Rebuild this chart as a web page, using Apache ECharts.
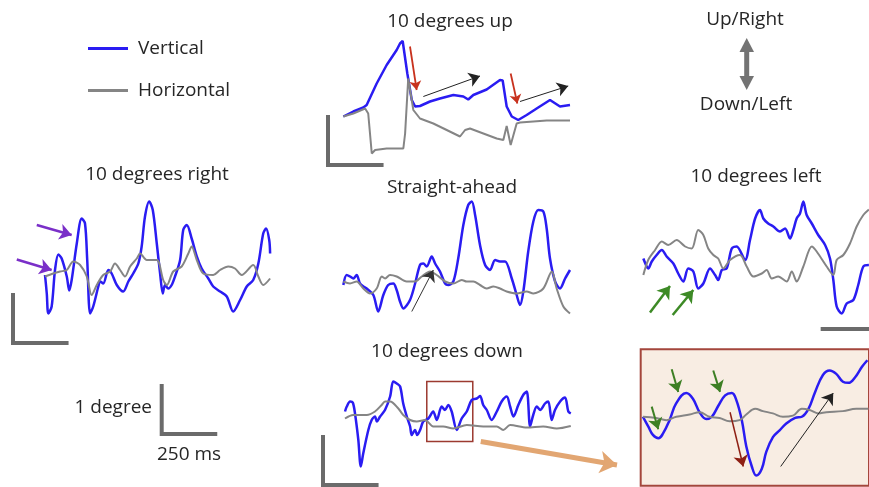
<!DOCTYPE html>
<html><head><meta charset="utf-8">
<script src="https://cdn.jsdelivr.net/npm/echarts@6/dist/echarts.min.js"></script>
<style>html,body{margin:0;padding:0;background:#fff}#c{width:869px;height:487px}</style>
</head><body><div id="c"></div>
<script>
// ---- data: time in ms, eye position in degrees ----
// 10 degrees up
const upTimeV = [69,114,159,174,219,264,309,324,336,357,377,392,414,459,504,564,609,631,654,714,774,786,804,827,856,894,939,999,1044,1089];
const upV = [0.97,1.07,1.15,1.2,1.63,2.0,2.3,2.43,2.48,1.83,1.3,1.17,1.18,1.27,1.33,1.4,1.37,1.31,1.4,1.51,1.7,1.69,1.17,0.97,0.9,1.0,1.13,1.3,1.17,1.2];
const upTimeH = [69,114,167,181,197,212,264,339,347,361,369,384,414,474,534,594,617,639,699,759,789,804,822,849,864,984,1089];
const upH = [0.97,1.03,1.13,1.03,0.23,0.3,0.33,0.33,0.63,1.73,1.7,1.1,0.93,0.83,0.7,0.57,0.7,0.73,0.63,0.53,0.5,0.78,0.4,0.83,0.85,0.89,0.89];
// 10 degrees right
const rightTimeV = [144,152,159,174,189,204,219,242,253,264,287,309,324,334,347,361,384,392,406,429,444,467,496,519,541,564,579,594,613,629,647,662,674,684,699,714,729,752,766,782,804,827,849,879,901,932,962,991,1022,1052,1081,1104,1126,1139,1153,1157];
const rightV = [1.36,0.99,0.59,0.73,1.46,1.77,1.69,1.33,1.05,1.26,1.99,2.49,2.39,1.66,0.59,0.73,1.13,1.23,1.19,1.46,1.39,1.16,1.03,1.23,1.39,1.59,1.93,2.53,2.83,2.66,1.99,1.39,0.99,1.16,1.09,1.16,1.33,1.66,2.26,2.36,2.09,1.73,1.49,1.29,1.13,1.03,0.93,0.63,0.86,1.13,1.26,1.59,2.19,2.29,2.06,1.79];
const rightTimeH = [144,181,212,242,271,302,332,354,377,406,437,459,482,504,527,557,572,602,647,676,692,721,759,789,804,827,856,901,932,969,999,1029,1081,1104,1126,1157];
const rightH = [1.33,1.39,1.43,1.46,1.63,1.56,1.33,0.96,1.16,1.36,1.43,1.59,1.46,1.33,1.53,1.69,1.79,1.66,1.66,1.26,1.16,1.43,1.53,1.79,1.93,1.66,1.39,1.36,1.46,1.53,1.49,1.36,1.56,1.33,1.16,1.29];
// Straight-ahead
const straightTimeV = [15,30,45,60,75,90,105,120,150,172,195,217,240,255,270,285,315,338,360,375,390,413,428,450,473,487,510,532,555,577,593,608,630,653,675,698,720,743,773,795,810,825,847,870,892,915,930,945,968,990,1013,1035];
const straightV = [0.7,0.9,0.87,0.83,0.9,0.73,0.67,0.63,0.5,0.17,0.5,0.7,0.73,0.6,0.37,0.23,0.4,0.73,1.1,1.13,1.07,1.27,1.13,0.97,0.73,0.7,0.77,1.23,1.9,2.3,2.37,2.1,1.5,1.1,1.0,1.2,1.17,1.17,0.83,0.5,0.3,0.57,1.37,1.97,2.2,2.17,1.83,1.23,0.77,0.63,0.83,1.0];
const straightTimeH = [15,45,75,105,135,165,188,203,225,255,300,338,368,405,435,473,510,548,570,600,630,660,690,720,750,795,840,870,915,953,975,1005,1035];
const straightH = [0.77,0.73,0.77,0.63,0.53,0.63,0.87,0.83,0.9,0.87,0.77,0.77,0.87,0.97,0.9,0.77,0.73,0.8,0.77,0.77,0.7,0.63,0.67,0.63,0.57,0.53,0.57,0.53,0.63,0.97,0.63,0.27,0.13];
// 10 degrees left
const leftTimeV = [15,30,37,53,75,98,120,150,172,195,217,240,262,285,315,338,352,368,390,413,435,473,495,518,540,555,577,600,630,653,675,690,705,720,735,750,773,802,833,855,870,885,908,930,960,982,1005,1030];
const leftV = [1.41,1.25,1.21,1.35,1.48,1.58,1.45,1.31,1.11,0.95,1.21,1.15,0.81,0.91,1.21,1.08,0.98,1.18,1.21,1.61,1.65,1.38,1.78,2.21,2.38,2.21,2.11,2.05,1.95,2.01,1.81,1.98,2.21,2.31,2.55,2.28,2.11,1.88,1.68,1.41,0.98,0.45,0.31,0.51,0.58,0.88,1.25,1.28];
const leftTimeH = [15,37,68,98,127,165,203,233,262,285,307,330,352,375,405,450,480,510,548,570,593,622,660,683,705,735,773,795,840,870,885,915,945,975,1005,1030];
const leftH = [1.08,1.38,1.58,1.75,1.68,1.78,1.65,1.61,1.98,1.88,1.61,1.48,1.41,1.21,1.38,1.48,1.25,1.05,1.11,1.18,1.01,1.05,0.95,1.15,0.95,1.25,1.65,1.55,1.25,1.08,1.38,1.48,1.71,2.05,2.28,2.39];
// 10 degrees down
const downTimeV = [99,107,122,134,144,159,170,181,204,219,234,242,257,279,302,316,332,347,361,377,392,399,414,424,437,451,474,496,512,534,549,564,579,602,624,647,669,692,707,721,737,759,782,804,827,842,857,879,901,917,932,946,962,977,999,1014,1029,1044,1067,1089,1104,1115];
const downV = [1.47,1.57,1.67,1.65,1.43,0.9,0.37,0.63,1.1,1.3,1.37,1.27,1.37,1.5,1.77,2.07,2.03,1.97,1.63,1.37,1.17,1.0,1.1,1.0,1.1,1.27,1.33,1.47,1.3,1.57,1.5,1.6,1.47,1.1,1.33,1.47,1.7,1.73,1.78,1.6,1.5,1.3,1.47,1.67,1.77,1.57,1.37,1.6,1.8,1.87,1.17,1.4,1.57,1.5,1.63,1.67,1.3,1.5,1.67,1.75,1.47,1.43];
const downTimeH = [99,136,197,234,264,279,302,339,361,392,422,459,496,541,586,647,721,782,811,842,917,991,1052,1115];
const downH = [1.33,1.4,1.4,1.47,1.6,1.67,1.67,1.53,1.4,1.3,1.27,1.3,1.17,1.17,1.13,1.2,1.17,1.17,1.1,1.2,1.15,1.17,1.13,1.18];
const downWindow = [467, 674, 0.87, 2.07]; // highlighted window: t0, t1, v0, v1
// magnified window (time relative to window)
const insetTimeV = [2,7,11,16,20,26,32,41,47,53,59,64,70,76,82,86,91,95,100,104,109,113,119,125,131,139,145,151,157,164,170,176,182,187,193,199,204];
const insetV = [0.61,0.52,0.45,0.42,0.46,0.58,0.73,0.82,0.77,0.65,0.59,0.61,0.71,0.8,0.82,0.76,0.58,0.35,0.17,0.09,0.15,0.3,0.43,0.49,0.55,0.6,0.61,0.68,0.83,0.98,1.02,0.99,0.92,0.91,0.96,1.05,1.11];
const insetTimeH = [2,14,23,32,44,53,62,71,80,89,95,103,110,119,128,137,145,152,160,167,182,194,205];
const insetH = [0.61,0.6,0.58,0.61,0.63,0.65,0.61,0.6,0.57,0.58,0.63,0.68,0.66,0.64,0.61,0.62,0.68,0.67,0.64,0.65,0.66,0.68,0.68];
// scale bar
const SCALE_MS = 250, SCALE_DEG = 1;
const leftScaleStart = 813;
const seriesNames = ['Vertical', 'Horizontal'];
const panelTitles = ['10 degrees up', '10 degrees right', 'Straight-ahead', '10 degrees left', '10 degrees down'];

// ---- layout / style ----
const MSPX = 4.5, DEGPX = 0.02;
const grids = [
  {left:328, top:35, width:250, height:130, mspx:MSPX, degpx:DEGPX},   // up
  {left:13, top:195, width:262, height:148, mspx:MSPX, degpx:DEGPX},   // right
  {left:340, top:195, width:235, height:125, mspx:MSPX, degpx:DEGPX},  // straight
  {left:640, top:190, width:229, height:139, mspx:MSPX, degpx:DEGPX},  // left
  {left:323, top:365, width:300, height:120, mspx:MSPX, degpx:DEGPX},  // down
  {left:640.7, top:349.3, width:228.3, height:136.4, mspx:0.9, degpx:1/113, inset:true}, // inset
  {left:161.7, top:382, width:62, height:52, mspx:MSPX, degpx:DEGPX}   // legend scale bar
];
const V_COLOR = '#2a1cf2', H_COLOR = '#858585', BAR = '#6b6b6b';
const FONT = '"Open Sans", sans-serif';

const zip = (t, v) => t.map((x, i) => [x, v[i]]);
function trace(gi, name, t, v, color, w, smooth) {
  return {type:'line', name, xAxisIndex:gi, yAxisIndex:gi, data:zip(t, v), showSymbol:false, symbol:'none',
    smooth: smooth, lineStyle:{color, width:w}, itemStyle:{color}, silent:true, z:3};
}
function arrows(gi, list, color, width, size, z) {
  return {type:'line', name:'arrows' + gi + color, xAxisIndex:gi, yAxisIndex:gi, data:[], clip:false, silent:true, z:z||5,
    markLine:{silent:true, symbol:['none','arrow'], symbolSize:size, label:{show:false}, animation:false,
      lineStyle:{color, width, type:'solid'}, emphasis:{disabled:true},
      data: list.map(a => [{coord:[a[0], a[1]]}, {coord:[a[2], a[3]]}])}};
}
function scaleBar(gi, pts) {
  return {type:'line', name:'scale' + gi, xAxisIndex:gi, yAxisIndex:gi, data:pts, symbol:'none', clip:false, silent:true,
    lineStyle:{color:BAR, width:4, cap:'butt', join:'miter'}, z:2};
}
const Lbar = [[0, SCALE_DEG], [0, 0], [SCALE_MS, 0]];

const series = [
  trace(0, seriesNames[0], upTimeV, upV, V_COLOR, 2.5, false),
  trace(0, seriesNames[1], upTimeH, upH, H_COLOR, 2, false),
  trace(1, seriesNames[0], rightTimeV, rightV, V_COLOR, 2.5, 0.3),
  trace(1, seriesNames[1], rightTimeH, rightH, H_COLOR, 2, 0.3),
  trace(2, seriesNames[0], straightTimeV, straightV, V_COLOR, 2.5, 0.3),
  trace(2, seriesNames[1], straightTimeH, straightH, H_COLOR, 2, 0.3),
  trace(3, seriesNames[0], leftTimeV, leftV, V_COLOR, 2.5, 0.3),
  trace(3, seriesNames[1], leftTimeH, leftH, H_COLOR, 2, 0.3),
  trace(4, seriesNames[0], downTimeV, downV, V_COLOR, 2.5, 0.3),
  trace(4, seriesNames[1], downTimeH, downH, H_COLOR, 2, 0.3),
  trace(5, seriesNames[0], insetTimeV, insetV, V_COLOR, 2.5, 0.4),
  trace(5, seriesNames[1], insetTimeH, insetH, H_COLOR, 2, 0.4),
  scaleBar(0, Lbar), scaleBar(1, Lbar), scaleBar(4, Lbar), scaleBar(6, Lbar),
  scaleBar(3, [[leftScaleStart, 0], [leftScaleStart + SCALE_MS, 0]]),
  // annotation arrows
  arrows(0, [[369,2.37,399,1.5],[822,1.83,852,1.23]], '#c8321e', 1.8, 9),
  arrows(0, [[429,1.37,684,1.78],[864,1.27,1081,1.58]], '#222', 1, 11),
  arrows(1, [[107,2.36,264,2.16],[17,1.67,174,1.46]], '#7a2fc8', 2.5, 12),
  arrows(2, [[323,0.17,420,1.0]], '#333', 1, 11),
  arrows(3, [[45,0.33,135,0.86],[147,0.28,240,0.78]], '#3d8a26', 2.5, 12),
  arrows(4, [[710,0.87,1323,0.4]], '#e2a672', 5, 17, 1),
  arrows(5, [[27.9,1.03,33.8,0.83],[65.3,1.02,71.4,0.83],[9.9,0.7,15.8,0.5]], '#3d7f24', 2, 11),
  arrows(5, [[80.4,0.65,92.3,0.17]], '#8e1f14', 1.5, 11),
  arrows(5, [[126,0.17,173.3,0.82]], '#222', 1, 11),
  {type:'line', name:'window', xAxisIndex:4, yAxisIndex:4, data:[], silent:true, z:4,
    markArea:{silent:true, label:{show:false}, itemStyle:{color:'rgba(0,0,0,0)', borderColor:'#9c3a30', borderWidth:1.5},
      data:[[{coord:[downWindow[0], downWindow[3]]}, {coord:[downWindow[1], downWindow[2]]}]]}}
];

const titlePos = [[450,22],[157,175],[452,188],[756,177],[447,352]];
const graphic = panelTitles.map((t, i) => ({type:'text', x:titlePos[i][0], y:titlePos[i][1], z:10,
  style:{text:t, font:'19px ' + FONT, fill:'#262626', align:'center', verticalAlign:'middle'}}));
graphic.push(
  {type:'text', x:152, y:408, style:{text:'1 degree', font:'19px ' + FONT, fill:'#262626', align:'right', verticalAlign:'middle'}},
  {type:'text', x:189, y:455, style:{text:'250 ms', font:'19px ' + FONT, fill:'#262626', align:'center', verticalAlign:'middle'}},
  {type:'text', x:745, y:20, style:{text:'Up/Right', font:'19px ' + FONT, fill:'#262626', align:'center', verticalAlign:'middle'}},
  {type:'text', x:746, y:105, style:{text:'Down/Left', font:'19px ' + FONT, fill:'#262626', align:'center', verticalAlign:'middle'}},
  {type:'line', shape:{x1:746.7, y1:50, x2:746.7, y2:78}, style:{stroke:'#737373', lineWidth:5}},
  {type:'polygon', shape:{points:[[739.5,52],[754,52],[746.7,38]]}, style:{fill:'#737373'}},
  {type:'polygon', shape:{points:[[739.5,76],[754,76],[746.7,90]]}, style:{fill:'#737373'}}
);

const option = {
  animation:false,
  backgroundColor:'#ffffff',
  legend:{data:seriesNames, orient:'vertical', left:88, top:39, padding:0, itemWidth:40, itemHeight:3, itemGap:23, icon:'rect',
    textStyle:{fontSize:19, fontFamily:FONT, color:'#262626', padding:[0,0,0,5]}, selectedMode:false},
  grid: grids.map(g => ({left:g.left, top:g.top, width:g.width, height:g.height, containLabel:false,
    show: !!g.inset, backgroundColor: g.inset ? '#f8ede3' : 'transparent', borderColor:'#a4463c', borderWidth: g.inset ? 2 : 0, z:0})),
  xAxis: grids.map((g, i) => ({type:'value', gridIndex:i, min:0, max:g.width * g.mspx, show:false})),
  yAxis: grids.map((g, i) => ({type:'value', gridIndex:i, min:0, max:g.height * g.degpx, show:false})),
  graphic,
  series
};
const chart = echarts.init(document.getElementById('c'), null, {renderer:'canvas'});
chart.setOption(option);
</script></body></html>
